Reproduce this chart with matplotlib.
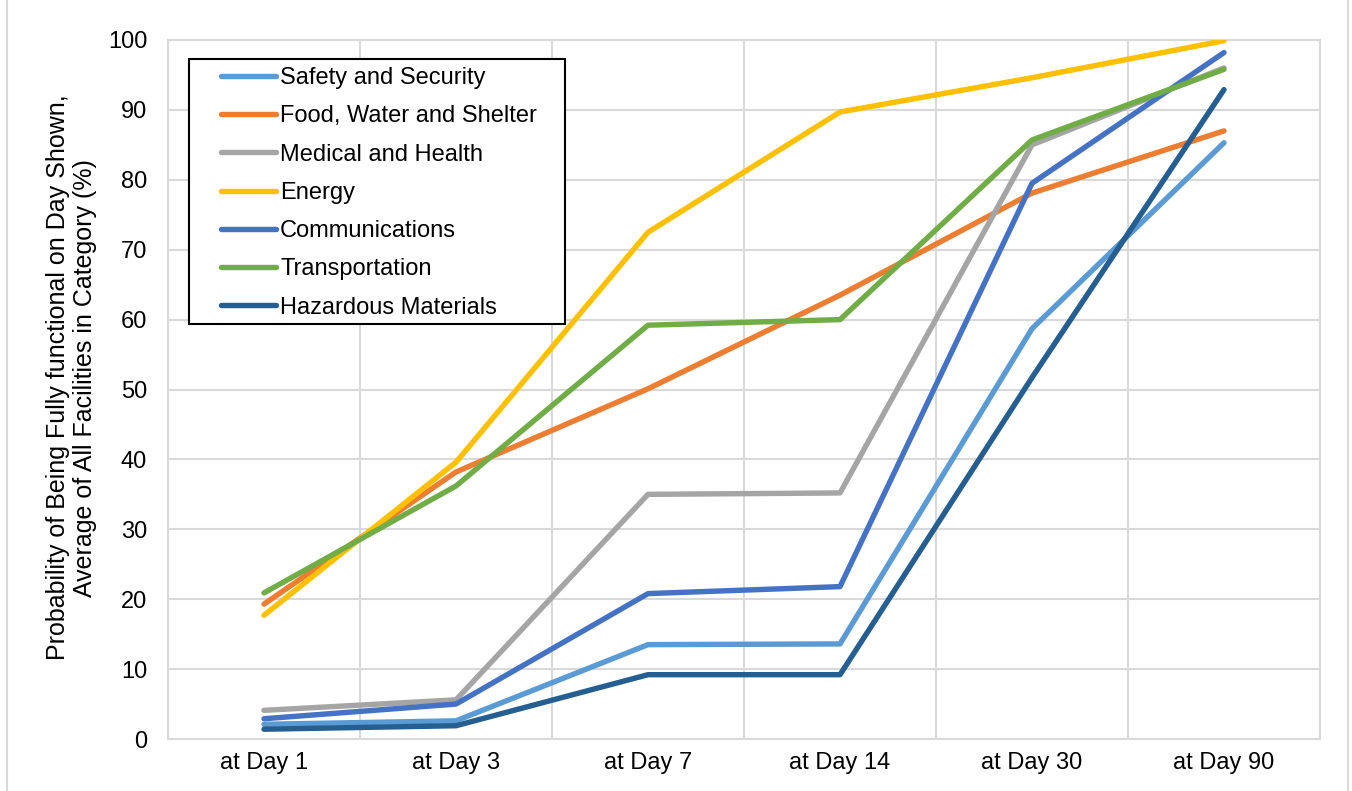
import matplotlib
matplotlib.use("Agg")
import matplotlib.pyplot as plt
from matplotlib.patches import Rectangle
from matplotlib.lines import Line2D
import numpy as np

plt.rcParams['font.family'] = ['Liberation Sans', 'DejaVu Sans']

categories = ["at Day 1", "at Day 3", "at Day 7", "at Day 14", "at Day 30", "at Day 90"]
safety = [2.1, 2.6, 13.5, 13.6, 58.7, 85.3]
food = [19.3, 38.2, 50.1, 63.5, 78.1, 87.0]
medical = [4.1, 5.6, 35.0, 35.2, 85.0, 96.0]
energy = [17.7, 39.6, 72.5, 89.7, 94.6, 99.9]
communications = [2.9, 5.0, 20.8, 21.8, 79.5, 98.2]
transportation = [20.9, 36.2, 59.2, 60.0, 85.7, 95.8]
hazardous = [1.4, 1.9, 9.2, 9.2, 51.7, 92.9]

series_names = ["Safety and Security", "Food, Water and Shelter", "Medical and Health",
                "Energy", "Communications", "Transportation", "Hazardous Materials"]
series_values = [safety, food, medical, energy, communications, transportation, hazardous]
colors = ["#5B9BD5", "#ED7D31", "#A5A5A5", "#FFC000", "#4472C4", "#70AD47", "#255E91"]

W, H = 1352, 791
fig = plt.figure(figsize=(W / 100, H / 100), dpi=100)
ax = fig.add_axes([168 / W, 1 - 739 / H, (1320 - 168) / W, (739 - 40) / H])

x = np.arange(len(categories))
handles = []
for name, vals, c in zip(series_names, series_values, colors):
    ln, = ax.plot(x, vals, color=c, lw=3.9, solid_capstyle='round',
                  solid_joinstyle='round', label=name, zorder=3)
    handles.append(ln)

ax.set_xlim(-0.5, len(categories) - 0.5)
ax.set_ylim(0, 100)
ax.set_yticks(np.arange(0, 101, 10))
ax.set_xticks(x)
ax.set_xticklabels(categories)
ax.set_xticks(np.arange(-0.5, len(categories), 1), minor=True)
ax.tick_params(axis='both', which='both', length=0, labelsize=17, colors='black')
ax.tick_params(axis='y', pad=15)
ax.tick_params(axis='x', pad=9)
ax.grid(axis='y', which='major', color='#D9D9D9', lw=1.5, zorder=0)
ax.grid(axis='x', which='minor', color='#D9D9D9', lw=1.5, zorder=0)
ax.grid(axis='x', which='major', visible=False)
for s in ax.spines.values():
    s.set_color('#D9D9D9')
    s.set_linewidth(1.5)

ax.set_ylabel("Probability of Being Fully functional on Day Shown,\nAverage of All Facilities in Category (%)",
              fontsize=18, linespacing=1.15)
ax.yaxis.set_label_coords(-0.062, 0.517)

# legend box
lx0, ly0, lx1, ly1 = 189, 59, 565, 324
fig.patches.append(Rectangle((lx0 / W, 1 - ly1 / H), (lx1 - lx0) / W, (ly1 - ly0) / H,
                             transform=fig.transFigure, facecolor='white',
                             edgecolor='black', lw=1.5, zorder=5))
leg = fig.legend(handles=handles, loc='upper left', bbox_to_anchor=(221 / W, 1 - 67 / H),
                 bbox_transform=fig.transFigure, frameon=False, fontsize=17,
                 handlelength=2.35, handletextpad=0.15, labelspacing=0.69,
                 borderpad=0, borderaxespad=0)
leg.set_zorder(6)

# chart area border sides
fig.add_artist(Line2D([7 / W, 7 / W], [0, 1], transform=fig.transFigure, color='#D9D9D9', lw=1.5))
fig.add_artist(Line2D([1348 / W, 1348 / W], [0, 1], transform=fig.transFigure, color='#D9D9D9', lw=1.5))

fig.savefig("out.png", dpi=100)
